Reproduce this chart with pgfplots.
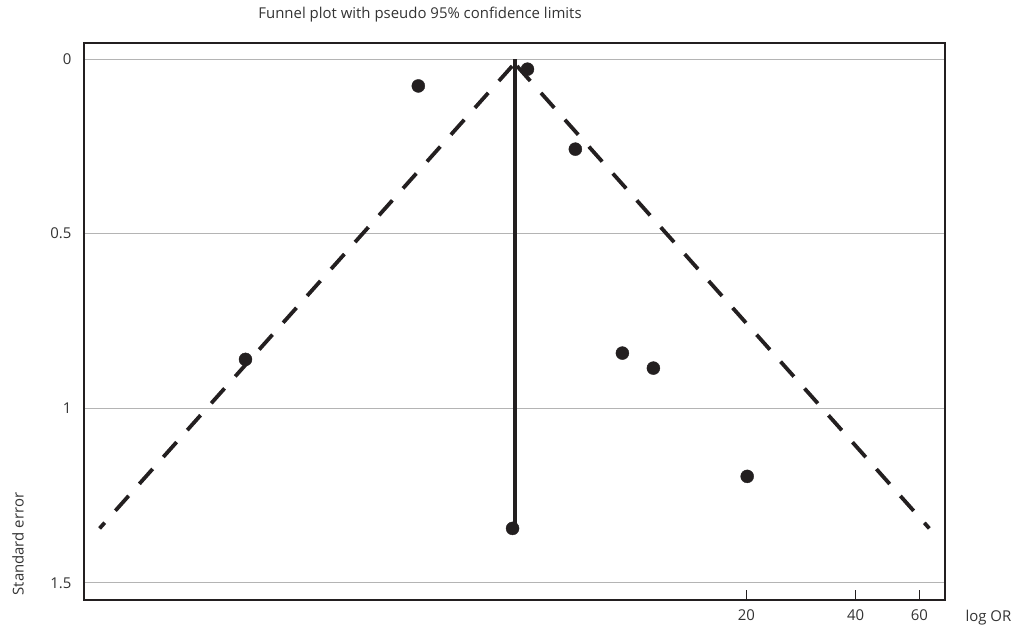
\documentclass[border=0pt]{standalone}
\usepackage{pgfplots}
\pgfplotsset{compat=1.18}
\usepackage{fontspec}
\setmainfont{Open Sans}
\definecolor{ink}{HTML}{231F20}
\definecolor{txt}{HTML}{333333}
\definecolor{gridc}{HTML}{B4B4B4}
\begin{document}
\begin{tikzpicture}[x=1bp,y=1bp]
\useasboundingbox (0,0) rectangle (1011,630);
\begin{axis}[
  at={(84bp,30bp)}, anchor=south west,
  scale only axis, width=861bp, height=557bp,
  xmode=log, xmin=0.298, xmax=70.6,
  y dir=reverse, ymin=-0.046, ymax=1.549,
  ytick={0,0.5,1,1.5}, yticklabels={0,0.5,1,1.5},
  xtick={20,40,60}, xticklabels={20,40,60},
  minor xtick={}, log ticks with fixed point,
  ymajorgrids, grid style={gridc, line width=0.8bp},
  major y tick style={draw=none},
  xtick pos=bottom, xtick align=inside,
  major tick length=10bp,
  major x tick style={ink, line width=0.8bp},
  axis line style={ink, line width=1.4bp},
  tick label style={font=\fontsize{15}{17}\selectfont, text=txt},
  yticklabel style={xshift=-9bp},
  xticklabel style={yshift=-6bp},
  /pgf/number format/assume math mode=true,
  clip=false,
]
\addplot[ink, line width=3.8bp, dash pattern=on 20bp off 16bp] coordinates {(4.52,0.02) (0.329,1.344)};
\addplot[ink, line width=3.8bp, dash pattern=on 20bp off 16bp] coordinates {(4.66,0.02) (63.9,1.344)};
\addplot[ink, line width=4bp] coordinates {(4.59,0) (4.59,1.344)};
\addplot[only marks, mark=*, mark size=6.5bp, mark options={fill=ink, draw=ink}] coordinates {
(2.49,0.077)
(4.98,0.029)
(6.75,0.258)
(0.831,0.860)
(9.10,0.842)
(11.08,0.885)
(20.1,1.195)
(4.53,1.344)
};
\end{axis}
\node[font=\fontsize{15}{17}\selectfont, text=txt] at (420,615) {Funnel plot with pseudo 95\% confidence limits};
\node[font=\fontsize{15}{17}\selectfont, text=txt, anchor=base west] at (962,8) {log OR};
\node[font=\fontsize{15}{17}\selectfont, text=txt, rotate=90, anchor=west] at (18,31) {Standard error};
\end{tikzpicture}
\end{document}
